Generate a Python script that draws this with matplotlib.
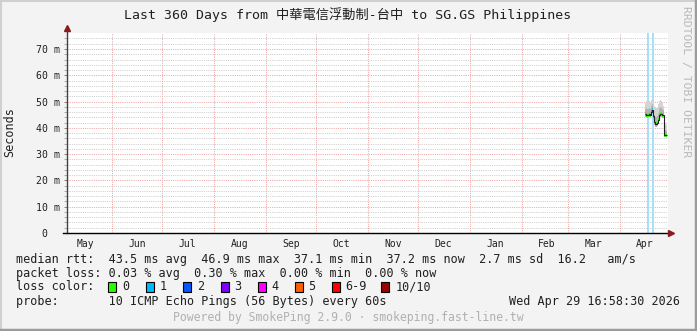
import matplotlib.pyplot as plt
import matplotlib.dates as mdates
import numpy as np
import pandas as pd
from matplotlib.patches import Rectangle

W, H = 697, 331

# time window of the graph (last 360 days)
start = pd.Timestamp("2025-05-04 16:58:30")
end = pd.Timestamp("2026-04-29 16:58:30")

# measurements (one consolidated step = 14.4 h)
times = pd.date_range("2026-04-16 03:00", periods=22, freq="864min")
median_ms = [45.3, 45.0, 44.8, 45.0, 45.2, 45.0, 46.2, 46.9, 44.5, 42.2, 41.5,
             41.3, 41.8, 43.0, 45.0, 45.4, 45.2, 44.8, 45.0, 37.4, 37.2, 37.2]
smoke_lo = [44.2, 44.0, 43.8, 44.0, 44.2, 44.0, 45.2, 45.8, 43.4, 41.2, 40.5,
            40.3, 40.8, 42.0, 44.0, 44.3, 44.2, 43.8, 43.9, 36.7, 36.5, 36.5]
smoke_hi = [49.5, 50.2, 50.0, 49.8, 50.3, 49.8, 50.5, 50.8, 49.5, 48.5, 47.8,
            47.5, 48.0, 49.0, 50.2, 50.5, 50.3, 49.8, 48.5, 44.0, 42.0, 41.0]
smoke_mid = [47.0, 47.5, 47.2, 47.3, 47.6, 47.2, 48.5, 49.0, 46.8, 45.0, 44.2,
             44.0, 44.5, 45.8, 47.5, 47.8, 47.6, 47.2, 46.8, 40.0, 39.0, 38.8]
loss = [0, 0, 0, 0, 0, 0, 1, 1, 0, 0, 0, 0, 0, 0, 0, 0, 0, 0, 0, 0, 0, 0]
marker_times = ["2026-04-17 17:00", "2026-04-20 22:00"]

yticks = [0, 10, 20, 30, 40, 50, 60, 70]
yticklabels = [" 0", "10 m", "20 m", "30 m", "40 m", "50 m", "60 m", "70 m"]

loss_labels = ["0", "1", "2", "3", "4", "5", "6-9", "10/10"]
loss_colors = ["#26ff00", "#00b8ff", "#0059ff", "#7e00ff", "#ff00ff",
               "#ff5e00", "#ff0000", "#a10000"]
loss_box_x = [108, 145.5, 183, 220.5, 258, 295, 331.5, 381]
loss_text_x = [122.5, 160, 197.5, 234.5, 271.5, 308.5, 345, 395.5]

title = "Last 360 Days from 中華電信浮動制-台中 to SG.GS Philippines"
legend_lines = [
    "median rtt:  43.5 ms avg  46.9 ms max  37.1 ms min  37.2 ms now  2.7 ms sd  16.2   am/s",
    "packet loss: 0.03 % avg  0.30 % max  0.00 % min  0.00 % now",
    "loss color:",
    "probe:       10 ICMP Echo Pings (56 Bytes) every 60s",
]
stamp = "Wed Apr 29 16:58:30 2026"
footer = "Powered by SmokePing 2.9.0 · smokeping.fast-line.tw"

MONO = ["DejaVu Sans Mono", "Noto Sans CJK TC"]


def fx(px):
    return px / W


def fy(py):
    return 1 - py / H


fig = plt.figure(figsize=(W / 100, H / 100), dpi=100, facecolor="#f3f3f3")
ax = fig.add_axes([fx(66.7), fy(233), (668 - 66.7) / W, (233 - 32.7) / H])
ax.set_facecolor("white")

x0, x1 = mdates.date2num(start), mdates.date2num(end)
ax.set_xlim(x0, x1)
ax.set_ylim(0, 76.2)

# grid (1px dotted)
grid_kw = dict(lw=0.72, ls=(0, (1, 1.2)), zorder=1)
for v in np.arange(2, 76, 2):
    if v % 10:
        ax.axhline(v, color="#cdcdcd", **grid_kw)
for v in yticks[1:]:
    ax.axhline(v, color="#f0a4a4", **grid_kw)
for m in pd.date_range("2025-06-01", "2026-04-01", freq="MS"):
    ax.axvline(mdates.date2num(m), color="#f0a4a4", **grid_kw)

# markers
for t in marker_times:
    ax.axvline(mdates.date2num(pd.Timestamp(t)), color="#a8e0f8", lw=1.5, zorder=2)

# smoke + median
tn = mdates.date2num(times)
step = tn[1] - tn[0]
edges = np.append(tn, tn[-1] + step)
ax.stairs(smoke_hi, edges, baseline=smoke_lo, fill=True, color="#d4d4d4", lw=0, zorder=3)
ax.stairs(smoke_mid, edges, baseline=smoke_lo, fill=True, color="#b4b4b4", lw=0, zorder=3)
ax.hlines(median_ms, edges[:-1], edges[1:], colors=[loss_colors[l] for l in loss],
          lw=2.6, zorder=4)
ax.stairs(median_ms, edges, baseline=None, color="#202020", lw=0.8, zorder=5)

# axes
for s in ax.spines.values():
    s.set_visible(False)
ax.plot([0, 0], [0, 1.02], transform=ax.transAxes, color="#404040", lw=1, clip_on=False, zorder=6)
ax.plot([-0.006, 1.003], [0, 0], transform=ax.transAxes, color="black", lw=1, clip_on=False, zorder=6)
ax.plot([0], [1.025], transform=ax.transAxes, marker="^", ms=5, color="#8b1a1a", clip_on=False, zorder=7)
ax.plot([1.005], [0], transform=ax.transAxes, marker=">", ms=5, color="#8b1a1a", clip_on=False, zorder=7)

ax.set_yticks(yticks)
ax.set_yticklabels(yticklabels, family=MONO, fontsize=7.1, color="#202020")
ax.set_yticks(np.arange(2, 76, 2), minor=True)
ax.tick_params(axis="y", which="major", length=2, width=0.6, color="#707070", pad=19.8)
ax.tick_params(axis="y", which="minor", length=2, width=0.6, color="#a0a0a0")
for lab in ax.get_yticklabels():
    lab.set_ha("left")

ax.xaxis.set_major_locator(mdates.MonthLocator())
ax.xaxis.set_major_formatter(plt.NullFormatter())
ax.xaxis.set_minor_locator(mdates.MonthLocator(bymonthday=16))
ax.xaxis.set_minor_formatter(mdates.DateFormatter("%b"))
ax.tick_params(axis="x", which="both", length=0, pad=4)
for lab in ax.get_xticklabels(minor=True):
    lab.set_family(MONO)
    lab.set_fontsize(7)
    lab.set_color("#202020")

# texts
fig.text(fx(348), fy(15), title, family=MONO, fontsize=9.5, ha="center", va="center", color="#202020")
fig.text(fx(10), fy(132), "Seconds", family=MONO, fontsize=8.5, rotation=90,
         ha="center", va="center", color="#202020")
fig.text(fx(686), fy(82), "RRDTOOL / TOBI OETIKER", family=MONO, fontsize=8.2, rotation=270,
         ha="center", va="center", color="#b8b8b8")

for line, py in zip(legend_lines, [259, 273, 287, 301]):
    fig.text(fx(16), fy(py), line, family=MONO, fontsize=8.5, ha="left", va="center", color="#202020")
fig.text(fx(680), fy(301), stamp, family=MONO, fontsize=8.5, ha="right", va="center", color="#202020")
fig.text(fx(348), fy(318), footer, family=MONO, fontsize=8.3, ha="center", va="center", color="#b0b0b0")

for lab, col, bx, tx in zip(loss_labels, loss_colors, loss_box_x, loss_text_x):
    fig.patches.append(Rectangle((fx(bx), fy(292)), 8 / W, 10.5 / H, transform=fig.transFigure,
                                 facecolor=col, edgecolor="black", lw=0.8))
    fig.text(fx(tx), fy(287), lab, family=MONO, fontsize=8.5, ha="left", va="center", color="#202020")

# canvas border
fig.add_artist(plt.Line2D([0, 1], [fy(1), fy(1)], color="#d0d0d0", lw=1.5))
fig.add_artist(plt.Line2D([fx(1), fx(1)], [0, 1], color="#d0d0d0", lw=1.5))
fig.add_artist(plt.Line2D([0, 1], [fy(329.5), fy(329.5)], color="#9c9c9c", lw=2.5))
fig.add_artist(plt.Line2D([fx(695.5), fx(695.5)], [0, 1], color="#9c9c9c", lw=2.5))

fig.savefig("out.png", dpi=100, facecolor=fig.get_facecolor())
